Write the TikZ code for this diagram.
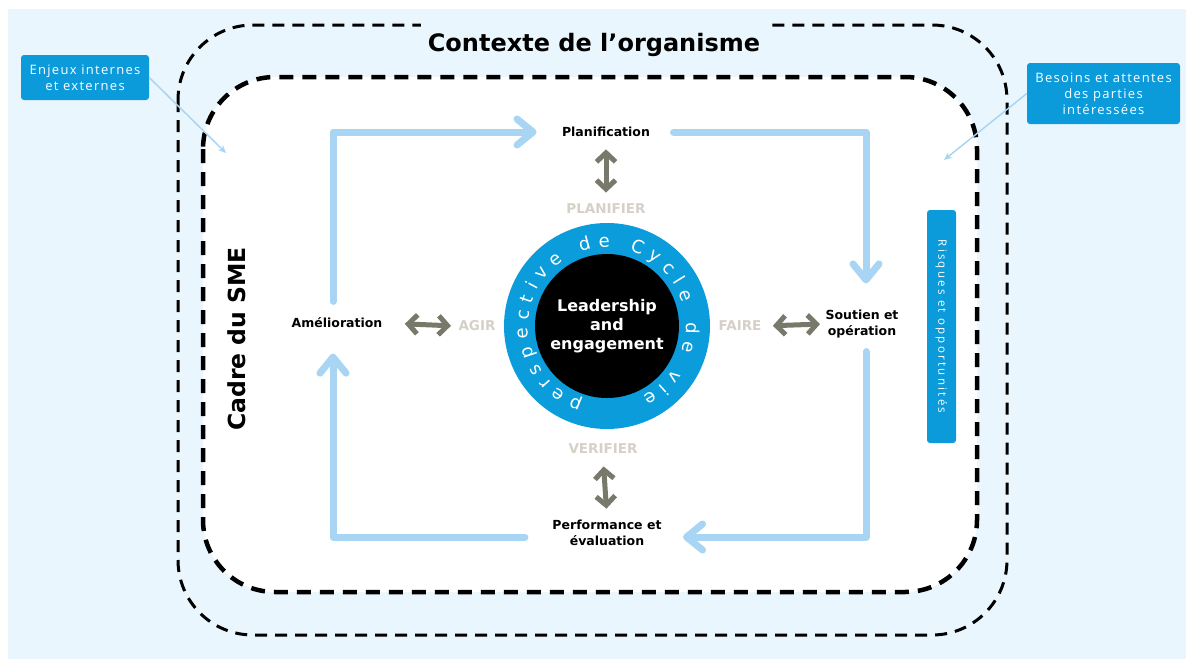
\documentclass[tikz,border=0pt]{standalone}
\usepackage{fontspec}
\setmainfont{DejaVu Sans}
\newfontfamily\calloutfont[LetterSpace=10]{Open Sans}
\usetikzlibrary{arrows.meta,decorations.text}

\definecolor{bgblue}{HTML}{EAF6FD}
\definecolor{boxblue}{HTML}{0B9BDB}
\definecolor{cycleblue}{HTML}{A9D5F5}
\definecolor{ringblue}{HTML}{0A9CDB}
\definecolor{stepgrey}{HTML}{78786B}
\definecolor{phasegrey}{HTML}{D6D0C7}

\begin{document}
\begin{tikzpicture}[x=1pt,y=-1pt,
	stage/.style={font=\fontsize{12.5}{16}\selectfont\bfseries, align=center},
	phase/.style={font=\fontsize{13.5}{15}\selectfont\bfseries, text=phasegrey},
	cyc/.style={cycleblue, line width=7pt, line cap=round, line join=round,
		-{Straight Barb[length=16pt,width=26pt,round]}},
	dbl/.style={stepgrey, line width=5pt,
		{Straight Barb[length=9pt,width=19pt]}-{Straight Barb[length=9pt,width=19pt]}},
	callout/.style={fill=boxblue, text=white, rounded corners=3pt, align=center,
		inner sep=0pt, font=\calloutfont\fontsize{13}{16}\selectfont},
	pointer/.style={cycleblue, line width=1.5pt, -{Stealth[length=8pt,width=7pt]}}]

	% Page and background
	\useasboundingbox (0,0) rectangle (1186,659);
	\fill[bgblue] (8,9) rectangle (1186,659);

	% Frames
	\draw[line width=3pt, dash pattern=on 12pt off 8pt, rounded corners=75pt]
		(178,25) rectangle (1007,635);
	\draw[line width=4.5pt, dash pattern=on 14pt off 9pt, fill=white, rounded corners=72pt]
		(203,77) rectangle (977,592);

	% Frame titles
	\node[fill=bgblue, inner xsep=7pt, inner ysep=11pt, font=\fontsize{24}{28}\selectfont\bfseries]
		(ctx) at (594,45) {Contexte de l’organisme};
	\node[rotate=90, font=\fontsize{23.5}{26}\selectfont\bfseries] (cadre) at (237,339) {Cadre du SME};

	% Centre circle
	\coordinate (hub) at (607,326);
	\fill[ringblue] (hub) circle (103);
	\fill[black] (hub) circle (72);
	\node[text=white, align=center, font=\fontsize{16}{19}\selectfont\bfseries]
		(lead) at (hub) {Leadership\\and\\engagement};
	\path[decorate,
		decoration={text along path, text align={fit to path}, text color=white,
		text={|\fontsize{18}{18}\selectfont|perspective de Cycle de vie}}]
		(hub) ++(108:79) arc[start angle=108, end angle=423, radius=79];

	% Steps
	\node[stage] (plan) at (606,132) {Planification};
	\node[stage] (sout) at (862,324) {Soutien et\\opération};
	\node[stage] (perf) at (607,533) {Performance et\\évaluation};
	\node[stage] (amel) at (337,323) {Amélioration};

	% PDCA labels
	\node[phase] (planifier) at (606,209) {PLANIFIER};
	\node[phase] (faire) at (740,326) {FAIRE};
	\node[phase] (verifier) at (603,449) {VERIFIER};
	\node[phase] (agir) at (477,326) {AGIR};

	% Cycle
	\draw[cyc, shorten <=13pt, shorten >=22pt] ([xshift=-4pt]amel.north) |- (plan.west);
	\draw[cyc, shorten <=20pt, shorten >=23pt] (plan.east) -| ([xshift=4pt]sout.north);
	\draw[cyc, shorten <=10pt, shorten >=18pt] ([xshift=4pt]sout.south) |- ([yshift=-4pt]perf.east);
	\draw[cyc, shorten <=24pt, shorten >=22pt] ([yshift=-4pt]perf.west) -| ([xshift=-4pt]amel.south);

	% Links to the PDCA labels
	\draw[dbl, shorten <=9pt, shorten >=8pt] (plan.south) -- (planifier.north);
	\draw[dbl, shorten <=8pt, shorten >=2pt] (faire.east) -- (sout.west);
	\draw[dbl, shorten <=9pt, shorten >=8pt] (verifier.south) -- (perf.north);
	\draw[dbl, shorten <=19pt, shorten >=4pt] (amel.east) -- (agir.west);

	% Side notes
	\node[callout, minimum width=128pt, minimum height=45pt] (enjeux) at (85,77.5)
		{Enjeux internes\\et externes};
	\node[callout, minimum width=153pt, minimum height=61pt] (besoins) at (1103.5,93.5)
		{Besoins et attentes\\des parties\\intéressées};
	\node[callout, rotate=-90, minimum width=233pt, minimum height=29pt,
		font=\calloutfont\fontsize{11.5}{12}\selectfont\addfontfeature{LetterSpace=20}]
		(risk) at (941.5,326.5) {Risques et opportunités};

	\coordinate (enjeuxtip) at (226,153);
	\coordinate (besoinstip) at (944,160);
	\draw[pointer] (enjeux.east) -- (enjeuxtip);
	\draw[pointer] (besoins.west) -- (besoinstip);
\end{tikzpicture}
\end{document}
